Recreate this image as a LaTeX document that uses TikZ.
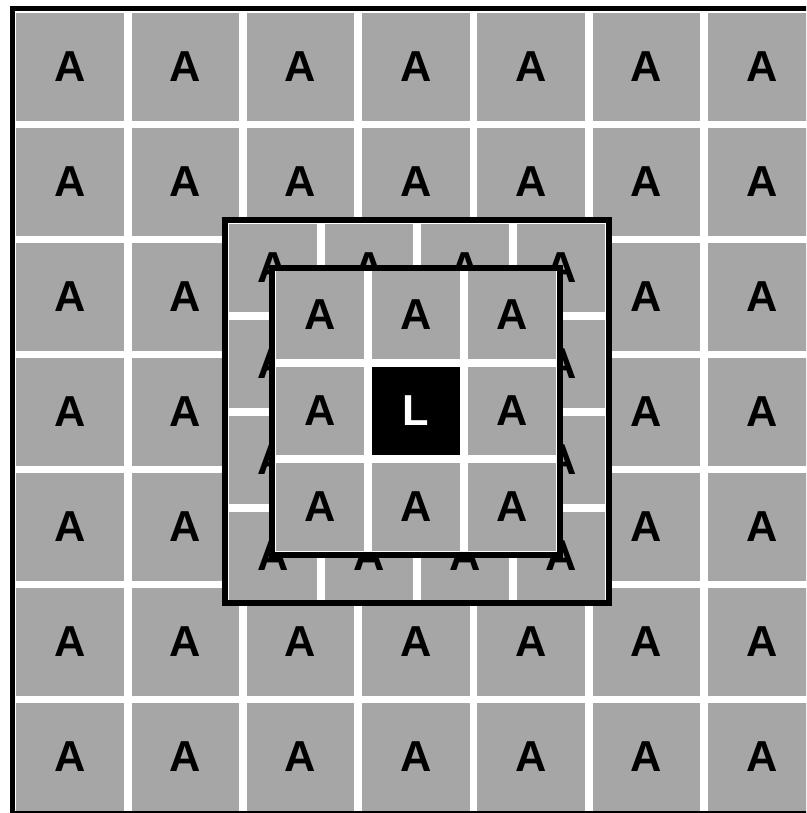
\documentclass[tikz,border=0pt]{standalone}
\usepackage{fontspec}
\setmainfont{Liberation Sans}
\usepackage{tikz}
\usepackage{xcolor}
\definecolor{tilegray}{RGB}{166,166,166}

\tikzset{
  tile/.style={fill=tilegray, minimum width=80.6pt, minimum height=80.6pt, inner sep=0pt,
    font=\fontsize{32.5}{39}\selectfont\bfseries},
  subtile/.style={tile, minimum width=66pt, minimum height=66pt},
  lettertile/.style={subtile, fill=black, text=white},
  window/.style={line width=4.5pt}
}

\begin{document}
\begin{tikzpicture}[x=0.75pt,y=-0.75pt]
  \clip (0,0) rectangle (806,813);
  % board of A tiles
  \foreach \i in {0,...,6}
    \foreach \j in {0,...,6}{
      \pgfmathtruncatemacro\hidden{(\i>1)*(\i<5)*(\j>1)*(\j<5)}
      \ifnum\hidden=0
        \node[tile] (a-\i-\j) at ({70+115.3*\i},{67+115*\j}) {A};
      \fi
    }
  \draw[line width=4pt] (12.5,814) -- (12.5,8.5) -- (820,8.5) -- (820,814) -- cycle;
  % outer window, 4x4
  \fill[white] (225,220) rectangle (609,603);
  \foreach \i/\j in {0/0,1/0,2/0,3/0,0/1,3/1,0/2,3/2,0/3,1/3,2/3,3/3}
    \node[subtile] (b-\i-\j) at ({273+96*\i},{267.5+96*\j}) {A};
  % inner window, 3x3
  \fill[white] (272,268) rectangle (559.5,555);
  \foreach \i/\j in {0/0,1/0,2/0,0/1,2/1,0/2,1/2,2/2}
    \node[subtile] (c-\i-\j) at ({320+96*\i},{315+96*\j}) {A};
  \node[lettertile] (l) at (416,411) {L};
  \draw[window] (225,220) rectangle (609,603);
  \draw[window] (272,268) rectangle (559.5,555);
\end{tikzpicture}
\end{document}
